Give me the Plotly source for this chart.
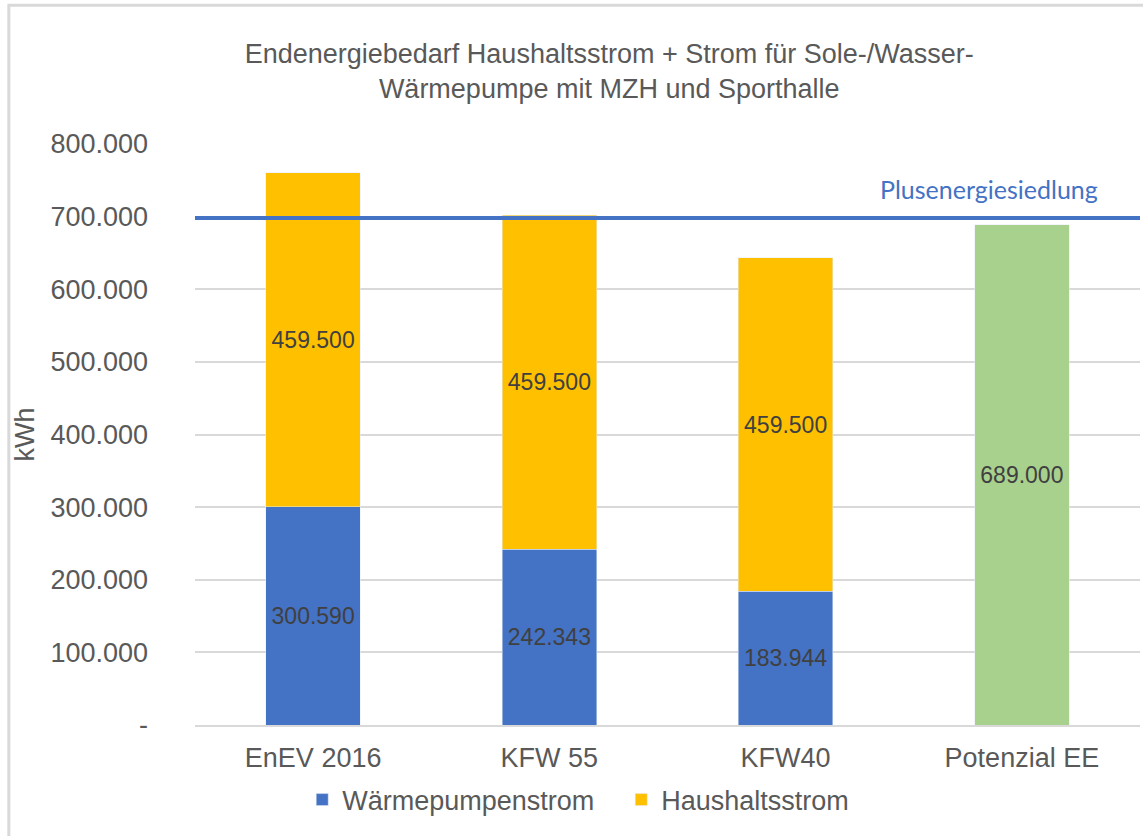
import plotly.graph_objects as go

categories = ["EnEV 2016", "KFW 55", "KFW40", "Potenzial EE"]
waermepumpe = [300590, 242343, 183944, None]
haushalt = [459500, 459500, 459500, None]
potenzial = [None, None, None, 689000]
plus_level = 698000
tick_vals = [0, 100000, 200000, 300000, 400000, 500000, 600000, 700000, 800000]
tick_text = ["-", "100.000", "200.000", "300.000", "400.000", "500.000",
             "600.000", "700.000", "800.000"]

grey = "#595959"
label_font = dict(family="Liberation Sans, Arial", size=23, color="#404040")

fig = go.Figure()
fig.add_trace(go.Bar(x=categories, y=waermepumpe, name="Wärmepumpenstrom",
                     marker_color="#4472C4", texttemplate="%{y:,.0f}",
                     textposition="inside", insidetextanchor="middle",
                     textangle=0, textfont=label_font))
fig.add_trace(go.Bar(x=categories, y=haushalt, name="Haushaltsstrom",
                     marker_color="#FFC000", texttemplate="%{y:,.0f}",
                     textposition="inside", insidetextanchor="middle",
                     textangle=0, textfont=label_font))
fig.add_trace(go.Bar(x=categories, y=potenzial, name="Potenzial EE",
                     marker_color="#A9D18E", texttemplate="%{y:,.0f}",
                     textposition="inside", insidetextanchor="middle",
                     textangle=0, textfont=label_font, showlegend=False))

fig.update_layout(
    width=1143, height=836,
    barmode="stack", bargap=0.6,
    separators=",.",
    plot_bgcolor="white", paper_bgcolor="white",
    font=dict(family="Liberation Sans, Arial", color=grey),
    margin=dict(l=195, r=3, t=144, b=111),
    title=dict(text="Endenergiebedarf Haushaltsstrom + Strom für Sole-/Wasser-<br>"
                    "Wärmepumpe mit MZH und Sporthalle",
               x=0.533, xanchor="center", y=0.925, yanchor="top",
               font=dict(size=27, color=grey)),
    legend=dict(orientation="h", xref="container", yref="container",
                x=0.5435, xanchor="center", y=0.043, yanchor="middle",
                font=dict(size=27, color=grey), traceorder="normal",
                entrywidth=274),
    showlegend=True,
)
fig.update_yaxes(range=[0, 800000], tickvals=tick_vals, ticktext=tick_text,
                 tickfont=dict(size=27, color=grey), gridcolor="#D9D9D9",
                 gridwidth=2, zeroline=False, ticklabelstandoff=46,
                 title=dict(text="kWh", font=dict(size=27, color=grey), standoff=7))
fig.update_xaxes(tickfont=dict(size=27, color=grey), showline=True,
                 linecolor="#D9D9D9", linewidth=2, ticks="", ticklabelstandoff=8)

# Plusenergiesiedlung reference line
fig.add_shape(type="line", xref="paper", x0=0, x1=1, yref="y",
              y0=plus_level, y1=plus_level,
              line=dict(color="#4472C4", width=4))
fig.add_annotation(text="Plusenergiesiedlung", xref="paper", x=0.958,
                   xanchor="right", yref="y", y=plus_level, yanchor="bottom",
                   yshift=12, showarrow=False,
                   font=dict(family="Lato, Open Sans", size=25, color="#4472C4"))

# chart border
fig.add_shape(type="rect", xref="paper", yref="paper",
              x0=-0.197, x1=1.02, y0=-0.21, y1=1.239,
              line=dict(color="#D9D9D9", width=3), fillcolor="rgba(0,0,0,0)",
              layer="below")

fig.write_html("out.html", config={"displayModeBar": False},
               post_script="document.body.style.margin='0px';")
